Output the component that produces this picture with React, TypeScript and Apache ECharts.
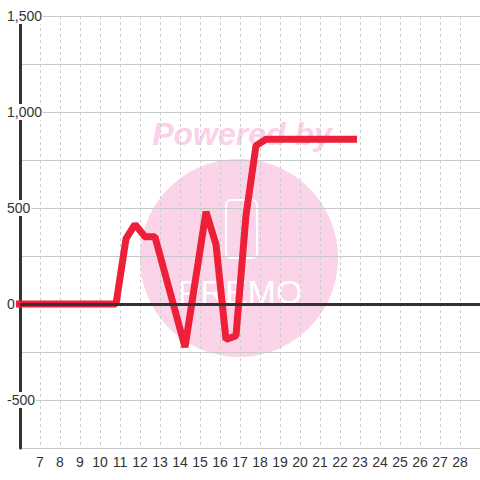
import React, { useEffect, useRef } from "react";
import * as echarts from "echarts";

// Data
const xValues: number[] = [5.8, 10.8, 11.3, 11.75, 12.25, 12.75, 14.25, 15.3, 15.8, 16.3, 16.8, 17.3, 17.8, 18.3, 22.85];
const yValues: number[] = [0, 0, 340, 415, 350, 350, -225, 480, 310, -185, -165, 462, 825, 858, 858];

const xMin = 6;
const xMax = 29;
const yMin = -750;
const yMax = 1500;
const yStep = 250;
const yLabelStep = 500;
const zeroLine = [0];

const watermarkTitle = "Powered by";
const watermarkLogo = "PREMO";

const FONT = "'Liberation Sans', Arial, sans-serif";

export default function App() {
  const ref = useRef<HTMLDivElement>(null);

  useEffect(() => {
    if (!ref.current) return;
    const chart = echarts.init(ref.current, undefined, { renderer: "svg" });
    const data = xValues.map((x, i) => [x, yValues[i]]);
    const fmt = (v: number) =>
      v.toLocaleString("en-US");

    chart.setOption({
      animation: false,
      backgroundColor: "#ffffff",
      grid: { left: 20, right: 0, top: 16, bottom: 32, containLabel: false },
      xAxis: {
        type: "value",
        min: xMin,
        max: xMax,
        interval: 1,
        axisLine: { show: false },
        axisTick: { show: false },
        splitLine: { show: true, lineStyle: { color: "#cccccc", width: 1, type: [3, 3] } },
        axisLabel: {
          showMinLabel: false,
          showMaxLabel: false,
          color: "#333333",
          fontSize: 14,
          fontFamily: FONT,
          margin: 7,
        },
      },
      yAxis: {
        type: "value",
        min: yMin,
        max: yMax,
        interval: yStep,
        axisLine: { show: true, lineStyle: { color: "#333333", width: 3 } },
        axisTick: { show: false },
        splitLine: { show: true, lineStyle: { color: "#c8c8c8", width: 1 } },
        axisLabel: {
          formatter: (v: number) => (v % yLabelStep === 0 && v > yMin ? fmt(v) : ""),
          align: "left",
          margin: 13,
          color: "#333333",
          fontSize: 14,
          fontFamily: FONT,
          backgroundColor: "#ffffff",
          lineHeight: 16,
          padding: [0, 1, 0, 0],
        },
      },
      graphic: [
        {
          type: "circle",
          z: -1,
          silent: true,
          shape: { cx: 239, cy: 258, r: 99 },
          style: { fill: "#fcd4ea" },
        },
        {
          type: "text",
          z: -1,
          silent: true,
          x: 242,
          y: 134,
          style: {
            text: watermarkTitle,
            fill: "#fcd0e8",
            font: `italic bold 32px ${FONT}`,
            align: "center",
            verticalAlign: "middle",
          },
        },
        {
          type: "rect",
          z: -1,
          silent: true,
          shape: { x: 226, y: 200, width: 31, height: 58, r: 5 },
          style: { fill: "none", stroke: "#ffffff", lineWidth: 2 },
        },
        {
          type: "text",
          z: -1,
          silent: true,
          x: 240,
          y: 292,
          style: {
            text: watermarkLogo,
            fill: "#ffffff",
            font: `normal 34px ${FONT}`,
            align: "center",
            verticalAlign: "middle",
          },
        },
      ],
      series: [
        {
          type: "line",
          z: 1,
          data: [],
          silent: true,
          markLine: {
            silent: true,
            symbol: ["none", "none"],
            label: { show: false },
            lineStyle: { color: "#333333", width: 3, type: "solid" },
            emphasis: { disabled: true },
            data: zeroLine.map((v) => ({ yAxis: v })),
          },
        },
        {
          type: "line",
          z: 3,
          data,
          showSymbol: false,
          symbol: "none",
          lineStyle: { color: "#ee1f38", width: 7, join: "bevel" },
          itemStyle: { color: "#ee1f38" },
          emphasis: { disabled: true },
        },
      ],
    });

    return () => chart.dispose();
  }, []);

  return (
    <div
      ref={ref}
      style={{ position: "fixed", left: 0, top: 0, width: 480, height: 480 }}
    />
  );
}
